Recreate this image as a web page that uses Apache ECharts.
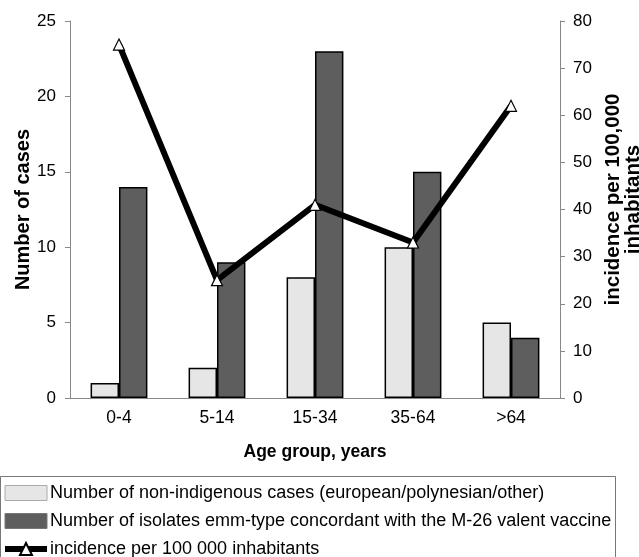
<!DOCTYPE html>
<html><head><meta charset="utf-8">
<script src="https://cdn.jsdelivr.net/npm/echarts@6/dist/echarts.min.js"></script>
<style>html,body{margin:0;padding:0;background:#fff}#c{width:639px;height:557px}</style>
</head><body><div id="c"></div>
<script>
const categories = ['0-4', '5-14', '15-34', '35-64', '>64'];
const nonIndigenous = [1, 2, 8, 10, 5];
const concordant = [14, 9, 23, 15, 4];
const incidence = [75, 25, 41, 33, 62];
const leftTicks = [0, 25, 5];
const rightTicks = [0, 80, 10];

const names = [
  'Number of non-indigenous cases (european/polynesian/other)',
  'Number of isolates emm-type concordant with the M-26 valent vaccine',
  'incidence per 100 000 inhabitants'
];
const font = 'Liberation Sans, Arial, sans-serif';
const chart = echarts.init(document.getElementById('c'));
chart.setOption({
  animation: false,
  textStyle: {fontFamily: font},
  grid: {left: 70, right: 79, top: 21, bottom: 159, containLabel: false, outerBoundsMode: 'none'},
  graphic: [{type: 'rect', shape: {x: 0.5, y: 476.5, width: 615, height: 90}, style: {fill: 'none', stroke: '#777', lineWidth: 1}}],
  legend: {
    orient: 'vertical', left: 2, top: 484, height: 120, itemWidth: 42, itemHeight: 15, itemGap: 10,
    padding: 0,
    textStyle: {fontSize: 18, lineHeight: 15, color: '#000', fontFamily: font, padding: [0,0,0,-2]},
    data: [
      {name: names[0], icon: 'rect', itemStyle: {borderColor: '#aaa', borderWidth: 1}},
      {name: names[1], icon: 'rect', itemStyle: {borderColor: '#777', borderWidth: 1}},
      {name: names[2], lineStyle: {width: 6, color: '#000'}}
    ]
  },
  xAxis: {
    type: 'category', data: categories,
    axisLine: {lineStyle: {color: '#888', width: 1}},
    axisTick: {length: 5, lineStyle: {color: '#888'}},
    axisLabel: {color: '#000', fontSize: 17.5, margin: 11},
    name: 'Age group, years', nameLocation: 'middle', nameGap: 45,
    nameTextStyle: {fontWeight: 'bold', fontSize: 17.5, color: '#000'}
  },
  yAxis: [{
    type: 'value', min: leftTicks[0], max: leftTicks[1], interval: leftTicks[2],
    axisLine: {show: true, lineStyle: {color: '#888'}},
    axisTick: {show: true, length: 5, lineStyle: {color: '#888'}},
    splitLine: {show: false},
    axisLabel: {color: '#000', fontSize: 17, margin: 14},
    name: 'Number of cases', nameLocation: 'middle', nameGap: 37, nameRotate: 90, nameMoveOverlap: false,
    nameTextStyle: {fontWeight: 'bold', fontSize: 20, color: '#000'}
  }, {
    type: 'value', min: rightTicks[0], max: rightTicks[1], interval: rightTicks[2],
    position: 'right',
    axisLine: {show: true, lineStyle: {color: '#888'}},
    axisTick: {show: true, length: 5, lineStyle: {color: '#888'}},
    splitLine: {show: false},
    axisLabel: {color: '#000', fontSize: 17, margin: 13},
    name: 'incidence per 100,000\ninhabitants', nameLocation: 'middle', nameGap: 43, nameRotate: 90,
    nameTextStyle: {fontWeight: 'bold', fontSize: 20.5, color: '#000', lineHeight: 20, padding: [0, 0, 0, 20]}
  }],
  series: [{
    name: names[0], type: 'bar', data: nonIndigenous, barGap: '0%', barCategoryGap: '42%',
    itemStyle: {color: '#e6e6e6', borderColor: '#000', borderWidth: 1.5}
  }, {
    name: names[1], type: 'bar', data: concordant,
    itemStyle: {color: '#5e5e5e', borderColor: '#000', borderWidth: 1.5}
  }, {
    name: names[2], type: 'line', yAxisIndex: 1, data: incidence,
    symbol: 'triangle', symbolSize: 11,
    lineStyle: {color: '#000', width: 6},
    itemStyle: {color: '#fff', borderColor: '#000', borderWidth: 1.2},
    z: 5
  }]
});
</script></body></html>
